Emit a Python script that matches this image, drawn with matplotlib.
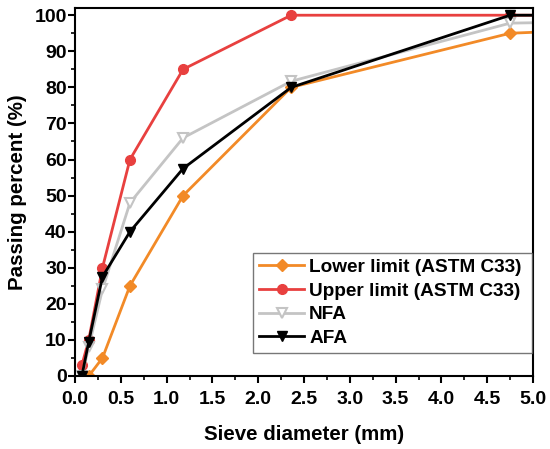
import matplotlib
matplotlib.use("Agg")
import matplotlib.pyplot as plt
from matplotlib.ticker import MultipleLocator

plt.rcParams['font.family'] = ['Liberation Sans', 'DejaVu Sans']
plt.rcParams['font.weight'] = 'bold'

sieve_lower = [0.15, 0.3, 0.6, 1.18, 2.36, 4.75, 9.5]
lower_limit = [0, 5, 25, 50, 80, 95, 100]
sieve_upper = [0.075, 0.15, 0.3, 0.6, 1.18, 2.36, 4.75, 9.5]
upper_limit = [3, 10, 30, 60, 85, 100, 100, 100]
sieve_agg = [0.075, 0.15, 0.3, 0.6, 1.18, 2.36, 4.75, 9.5]
nfa = [0, 8, 24, 48, 66, 81.7, 97.8, 100]
afa = [0, 9.5, 27.5, 40, 57.5, 80, 100, 100]

c_orange = '#F28A27'
c_red = '#E8403F'
c_grey = '#C4C4C4'

fig = plt.figure(figsize=(5.5, 4.49), dpi=100)
ax = fig.add_axes([75/550, 1-376/449, (533-75)/550, (376-8)/449])

ax.plot(sieve_lower, lower_limit, color=c_orange, lw=2, marker='D', ms=6,
        label='Lower limit (ASTM C33)')
ax.plot(sieve_upper, upper_limit, color=c_red, lw=2, marker='o', ms=7,
        label='Upper limit (ASTM C33)')
ax.plot(sieve_agg, nfa, color=c_grey, lw=2, marker='v', ms=7, mfc='white',
        mec=c_grey, mew=1.5, label='NFA')
ax.plot(sieve_agg, afa, color='black', lw=2, marker='v', ms=7, label='AFA')

ax.set_xlim(0, 5.0)
ax.set_ylim(0, 102)
ax.xaxis.set_major_locator(MultipleLocator(0.5))
ax.xaxis.set_minor_locator(MultipleLocator(0.25))
ax.yaxis.set_major_locator(MultipleLocator(10))
ax.yaxis.set_minor_locator(MultipleLocator(5))
ax.tick_params(which='major', direction='out', length=5, width=1.5, labelsize=14)
ax.tick_params(which='minor', direction='out', length=3, width=1.2)
ax.tick_params(axis='x', which='major', pad=6)
ax.tick_params(axis='y', which='major', pad=1)
for lab in ax.get_xticklabels() + ax.get_yticklabels():
    lab.set_fontweight('bold')
for s in ax.spines.values():
    s.set_linewidth(1.5)

ax.set_xlabel('Sieve diameter (mm)', fontsize=14.8, fontweight='bold', labelpad=12)
ax.set_ylabel('Passing percent (%)', fontsize=14.8, fontweight='bold', labelpad=5)

leg = ax.legend(loc='upper left', bbox_to_anchor=(0.3886, 0.0, 0.609, 0.334),
                mode='expand', fontsize=13.7,
                frameon=True, fancybox=False, edgecolor='#555555',
                borderpad=0.3, labelspacing=0.33, handlelength=2.4,
                handletextpad=0.25, borderaxespad=0)
leg.get_frame().set_linewidth(1.0)
for t in leg.get_texts():
    t.set_fontweight('bold')

fig.savefig('out.png', dpi=100)
